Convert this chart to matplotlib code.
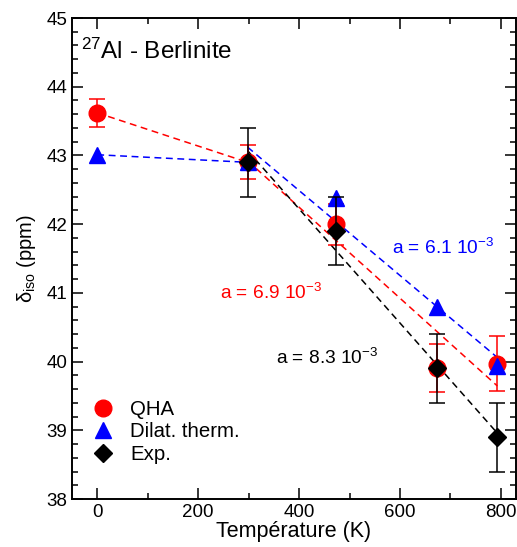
import numpy as np
import matplotlib
matplotlib.use("Agg")
import matplotlib.pyplot as plt

plt.rcParams['font.family'] = ['Liberation Sans', 'DejaVu Sans']
plt.rcParams['mathtext.fontset'] = 'custom'
plt.rcParams['mathtext.rm'] = 'Liberation Sans'
plt.rcParams['mathtext.it'] = 'Liberation Sans:italic'
plt.rcParams['mathtext.bf'] = 'Liberation Sans:bold'

# Data
T_qha = [0, 298, 473, 673, 793]
qha = [43.62, 42.90, 42.00, 39.90, 39.97]
qha_err = [0.20, 0.25, 0.30, 0.35, 0.40]

T_dil = [0, 298, 473, 673, 793]
dil = [43.01, 42.90, 42.38, 40.80, 39.94]

T_exp = [298, 473, 673, 793]
exp_v = [42.90, 41.90, 39.90, 38.90]
exp_err = [0.50, 0.50, 0.50, 0.50]

fit_labels = ['a = 6.9 10$^{-3}$', 'a = 6.1 10$^{-3}$', 'a = 8.3 10$^{-3}$']

fig = plt.figure(figsize=(5.17, 5.47), dpi=100)
ax = fig.add_axes([72/517, 1-499/547, 444/517, 481/547])

dash = (0, (4.5, 3))
lw = 1.1

# segments 0 -> 298 K
ax.plot(T_qha[:2], qha[:2], color='red', ls=dash, lw=lw, zorder=2)
ax.plot(T_dil[:2], dil[:2], color='blue', ls=dash, lw=lw, zorder=2)

# linear fits over 298-793 K
for Tx, yv, c in [(T_qha[1:], qha[1:], 'red'), (T_dil[1:], dil[1:], 'blue'), (T_exp, exp_v, 'black')]:
    p = np.polyfit(Tx, yv, 1)
    xx = np.array([Tx[0], Tx[-1]])
    ax.plot(xx, np.polyval(p, xx), color=c, ls=dash, lw=lw, zorder=2)

# error bars and markers
ax.errorbar(T_qha, qha, yerr=qha_err, fmt='none', ecolor='red', elinewidth=1.1, capsize=5.5, capthick=1.1, zorder=3)
ax.plot(T_qha, qha, 'o', color='red', ms=12, mec='red', zorder=4, label='QHA')
ax.plot(T_dil, dil, '^', color='blue', ms=12, mec='blue', zorder=5, label='Dilat. therm.')
ax.errorbar(T_exp, exp_v, yerr=exp_err, fmt='none', ecolor='black', elinewidth=1.1, capsize=5.5, capthick=1.1, zorder=6)
ax.plot(T_exp, exp_v, 'D', color='black', ms=9, mec='black', zorder=7, label='Exp.')

ax.set_xlim(-50, 830)
ax.set_ylim(38, 45)
ax.set_xticks([0, 200, 400, 600, 800])
ax.set_xticks(np.arange(100, 800, 200), minor=True)
ax.set_yticks(np.arange(38, 46, 1))
ax.set_yticks(np.arange(38, 45.01, 0.2), minor=True)
ax.tick_params(which='both', direction='in', top=True, right=True, width=1.1, labelsize=13.5)
ax.tick_params(which='major', length=8)
ax.tick_params(which='minor', length=4)
for s in ax.spines.values():
    s.set_linewidth(1.4)

ax.set_xlabel('Température (K)', fontsize=15.5, labelpad=0)
ax.set_ylabel('δ$_{\\mathrm{iso}}$ (ppm)', fontsize=14.5, labelpad=6)

ax.text(0.02, 0.915, '$^{27}$Al - Berlinite', transform=ax.transAxes, fontsize=17.5, va='baseline', ha='left')

# annotations in data coordinates (positions)
ann_pos = [(-50 + (220 - 72) * 880 / 444, 45 - (293 - 18) * 7 / 481),
           (-50 + (392 - 72) * 880 / 444, 45 - (248 - 18) * 7 / 481),
           (-50 + (276 - 72) * 880 / 444, 45 - (358 - 18) * 7 / 481)]
for lbl, (xd, yd), c in zip(fit_labels, ann_pos, ['red', 'blue', 'black']):
    ax.text(xd, yd, lbl, color=c, fontsize=13.8, va='center', ha='left')

leg = ax.legend(loc='lower left', bbox_to_anchor=(0.047, 0.073), frameon=False, fontsize=14.7,
                handlelength=1.0, handletextpad=0.82, labelspacing=0.17, borderpad=0.0,
                borderaxespad=0.0, numpoints=1)

fig.savefig('out.png', dpi=100)
